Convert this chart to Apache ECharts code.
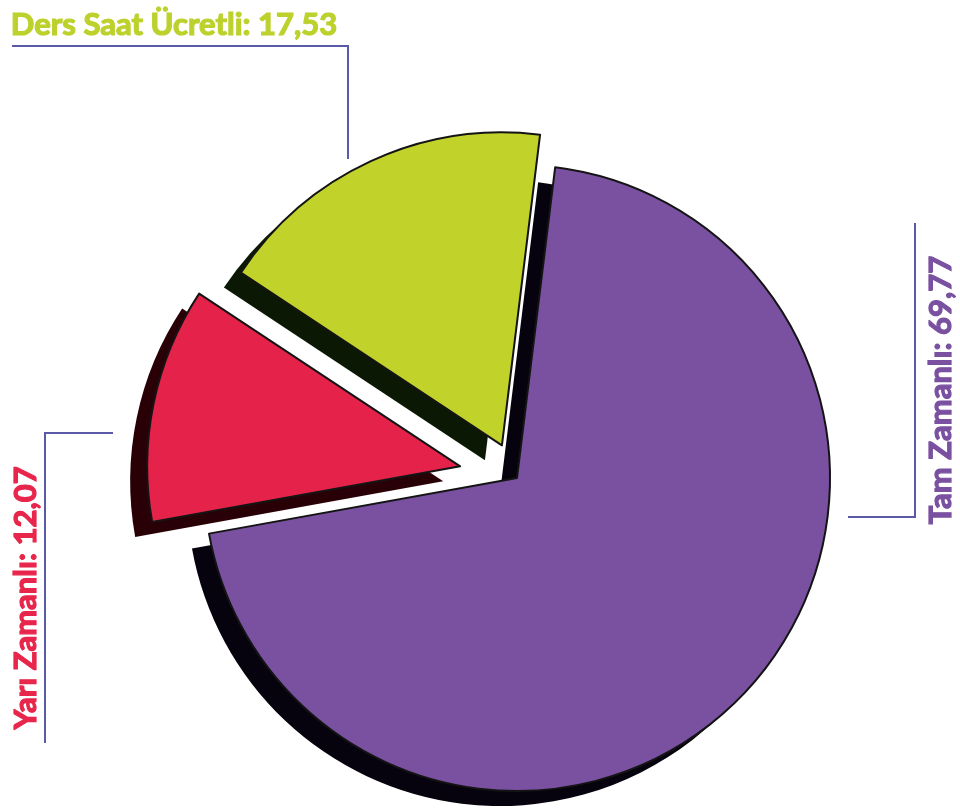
<!DOCTYPE html>
<html lang="tr">
<head>
<meta charset="utf-8">
<title>Öğretim Elemanı Dağılımı</title>
<script src="https://cdn.jsdelivr.net/npm/echarts@6/dist/echarts.min.js"></script>
<style>
	html, body { margin: 0; padding: 0; background: #ffffff; }
	#chart { width: 960px; height: 810px; }
</style>
</head>
<body>
<div id="chart"></div>
<script>
	// veriler
	const names = ['Tam Zamanlı', 'Yarı Zamanlı', 'Ders Saat Ücretli'];
	const values = [69.77, 12.07, 17.53];

	// görünüm
	const colors = ['#7a51a0', '#e5234a', '#c1d32b'];
	const shadowColors = ['#06030e', '#2a0007', '#0b1904'];
	const labelColors = ['#7a50a0', '#e8254a', '#bdd12d'];
	const explode = [0, 58, 36];
	const labelPos = [[941, 390], [26, 598], [174, 25]];
	const labelRot = [90, 90, 0];
	const guidePts = [
		[[848, 517], [915, 517], [915, 223]],
		[[113, 433], [45, 433], [45, 743]],
		[[348, 159], [348, 46], [12, 46]]
	];

	function fmt(v) {
		return v.toFixed(2).replace('.', ',');
	}

	const chart = echarts.init(document.getElementById('chart'));

	// her dilim icin iki katman: golgeli dolgu + ince siyah kenar
	function makeSeries(i, edge) {
		const withLabels = i === 0 && !edge;
		const data = names.map(function (n, j) {
			let style;
			if (j !== i) {
				style = { color: 'transparent', borderWidth: 0 };
			} else if (edge) {
				style = { color: 'transparent', borderColor: '#141414', borderWidth: 2 };
			} else {
				style = {
					color: colors[j],
					borderWidth: 0,
					shadowColor: shadowColors[j],
					shadowBlur: 0,
					shadowOffsetX: -17,
					shadowOffsetY: 15
				};
			}
			return {
				name: n,
				value: values[j],
				selected: j === i && explode[i] > 0,
				itemStyle: style,
				select: { itemStyle: style },
				label: {
					show: withLabels,
					color: labelColors[j],
					textBorderColor: labelColors[j],
					textBorderWidth: 1.2
				}
			};
		});
		return {
			type: 'pie',
			center: [517, 478],
			radius: 313,
			startAngle: 83,
			clockwise: true,
			silent: true,
			avoidLabelOverlap: false,
			selectedMode: explode[i] > 0 ? 'multiple' : false,
			selectedOffset: explode[i],
			emphasis: { disabled: true },
			label: {
				show: withLabels,
				position: 'outside',
				fontFamily: 'Lato, sans-serif',
				fontWeight: 'bold',
				fontSize: 31,
				formatter: function (p) {
					return p.name + ': ' + fmt(p.value);
				}
			},
			labelLine: {
				show: withLabels,
				lineStyle: { color: '#5b5aa8', width: 2 }
			},
			labelLayout: withLabels ? function (p) {
				const k = p.dataIndex;
				return {
					x: labelPos[k][0],
					y: labelPos[k][1],
					rotate: labelRot[k],
					align: 'center',
					verticalAlign: 'middle',
					labelLinePoints: guidePts[k]
				};
			} : null,
			data: data
		};
	}

	const series = [];
	names.forEach(function (_, i) {
		series.push(makeSeries(i, false));
		series.push(makeSeries(i, true));
	});

	chart.setOption({
		animation: false,
		backgroundColor: '#ffffff',
		series: series
	});
</script>
</body>
</html>
